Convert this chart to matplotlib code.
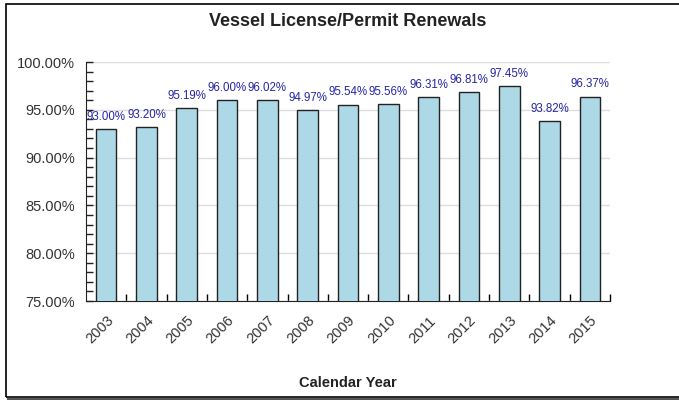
import matplotlib.pyplot as plt
from matplotlib.patches import Rectangle
from matplotlib.lines import Line2D
from matplotlib.ticker import MultipleLocator, FuncFormatter

# data
years = ['2003', '2004', '2005', '2006', '2007', '2008', '2009',
         '2010', '2011', '2012', '2013', '2014', '2015']
renewals = [93.00, 93.20, 95.19, 96.00, 96.02, 94.97, 95.54,
            95.56, 96.31, 96.81, 97.45, 93.82, 96.37]

plt.rcParams['font.family'] = ['Liberation Sans', 'DejaVu Sans']

fig = plt.figure(figsize=(6.79, 4.0), dpi=100)
W, H = 679.0, 400.0

# frame round the whole picture, with a shadow at the bottom
fig.patches.append(Rectangle((6 / W, 1 - 397 / H), 1.0, 393 / H, transform=fig.transFigure,
                             fill=False, edgecolor='black', linewidth=1.2, zorder=0))
fig.lines.append(Line2D([8 / W, 1.0], [1 - 398.5 / H, 1 - 398.5 / H], transform=fig.transFigure,
                        color='#555555', linewidth=1.5))

ax = fig.add_axes([86 / W, 1 - 301 / H, 524 / W, 239 / H])

x = list(range(len(years)))
bars = ax.bar(x, renewals, width=0.51, color='#add8e6', edgecolor='#222222',
              linewidth=1.0, zorder=3)

for xi, v in zip(x, renewals):
    ax.annotate('%.2f%%' % v, (xi, v), xytext=(0, 4.5), textcoords='offset points',
                ha='center', va='bottom', fontsize=8.3, color='#2525a5', zorder=4)

ax.set_xlim(-0.5, len(years) - 0.5)
ax.set_ylim(75, 100)

ax.yaxis.set_major_locator(MultipleLocator(5))
ax.yaxis.set_minor_locator(MultipleLocator(1))
ax.yaxis.set_major_formatter(FuncFormatter(lambda v, p: '%.2f%%' % v))
ax.tick_params(axis='y', which='both', direction='in', length=5, width=1,
               labelsize=10.5, colors='#222222', pad=8)
ax.tick_params(axis='y', labelcolor='#333333')

# x ticks sit between the categories, labels under the bars
ax.set_xticks([i + 0.5 for i in x])
ax.set_xticklabels([])
ax.set_xticks(x, minor=True)
ax.set_xticklabels(years, minor=True, rotation=45, ha='right', rotation_mode='anchor',
                   fontsize=10.5, color='#333333')
ax.tick_params(axis='x', which='major', direction='in', length=5, width=1)
ax.tick_params(axis='x', which='minor', length=0, pad=9)

ax.yaxis.grid(True, which='major', color='#dddddd', linewidth=1, zorder=0)
ax.set_axisbelow(True)

ax.spines['top'].set_visible(False)
ax.spines['right'].set_visible(False)
ax.spines['left'].set_color('#222222')
ax.spines['bottom'].set_color('#222222')

fig.text(348 / W, 1 - 22 / H, 'Vessel License/Permit Renewals', ha='center', va='center',
         fontsize=13, fontweight='bold', color='#222222')
fig.text(348 / W, 1 - 383 / H, 'Calendar Year', ha='center', va='center',
         fontsize=10.5, fontweight='bold', color='#222222')

plt.savefig('out.png', dpi=100)
